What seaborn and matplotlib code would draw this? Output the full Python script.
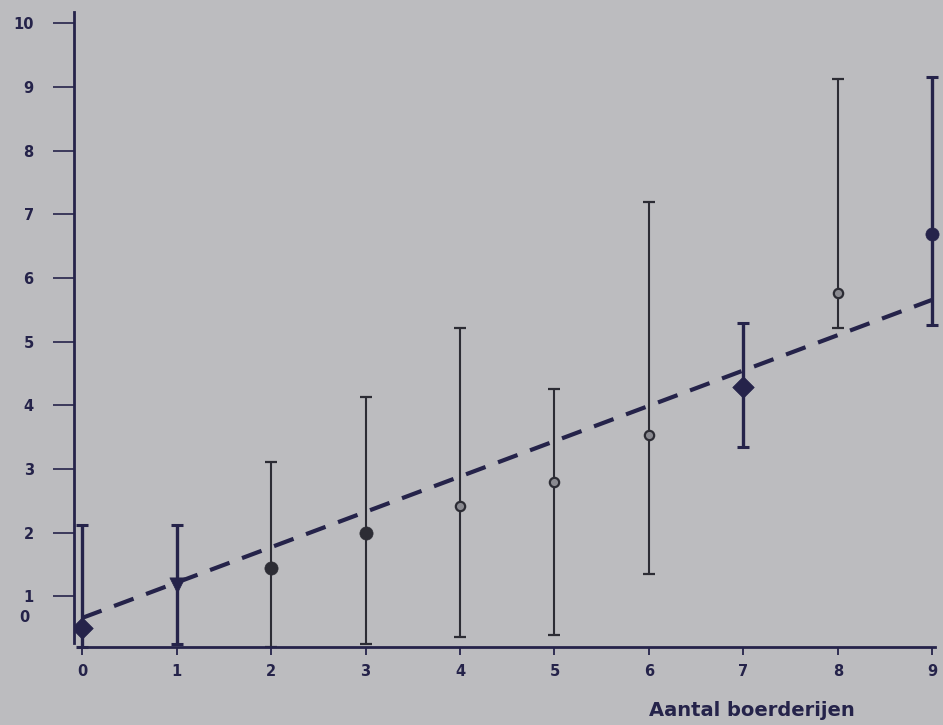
import numpy as np
import pandas as pd
import matplotlib
matplotlib.use("Agg")
import matplotlib.pyplot as plt
import matplotlib.transforms as mtransforms
import seaborn as sns

# waarden
aantal = [0, 1, 2, 3, 4, 5, 6, 7, 8, 9]
gemiddeld = [0.50, 1.18, 1.44, 1.99, 2.42, 2.80, 3.53, 4.29, 5.76, 6.69]
onder = [0.20, 0.25, 0.20, 0.25, 0.36, 0.39, 1.35, 3.35, 5.21, 5.26]
boven = [2.12, 2.12, 3.11, 4.13, 5.21, 4.26, 7.19, 5.29, 9.13, 9.16]
symbool = ['D', 'v', 'o', 'o', 'o', 'o', 'o', 'D', 'o', 'o']
dik = [True, True, False, False, False, False, False, True, False, True]
open_punt = [False, False, False, False, True, True, True, False, True, False]

lijn_x = [0, 9]
lijn_y = [0.66, 5.66]

yticks = [1, 2, 3, 4, 5, 6, 7, 8, 9, 10]
xticks = [0, 1, 2, 3, 4, 5, 6, 7, 8, 9]

bg = '#bcbcbf'
navy = '#25234a'
grijs = '#2c2c34'

sns.set_style('white', {'axes.facecolor': bg, 'figure.facecolor': bg})
plt.rcParams['font.family'] = ['DejaVu Sans']

df = pd.DataFrame({'x': aantal, 'y': gemiddeld, 'lo': onder, 'hi': boven,
                   'm': symbool, 'dik': dik, 'open': open_punt})

fig = plt.figure(figsize=(9.43, 7.25), dpi=100)
ax = fig.add_axes([74 / 943, 65 / 725, 866 / 943, 648 / 725])

# foutbalken
for _, r in df.iterrows():
    kleur = navy if r['dik'] else grijs
    ax.errorbar(r['x'], r['y'], yerr=[[r['y'] - r['lo']], [r['hi'] - r['y']]],
                fmt='none', ecolor=kleur, elinewidth=2.4 if r['dik'] else 1.5,
                capsize=4.5, capthick=2.2 if r['dik'] else 1.6, zorder=2)

# regressielijn
sns.lineplot(x=lijn_x, y=lijn_y, ax=ax, color=navy, linewidth=3.0,
             linestyle=(0, (5, 3.2)), zorder=3)

# punten
for _, r in df.iterrows():
    kleur = navy if r['dik'] else grijs
    if r['open']:
        sns.scatterplot(x=[r['x']], y=[r['y']], ax=ax, marker='o', s=45,
                        facecolor='#8a8a90', edgecolor=grijs, linewidth=1.6, zorder=4)
    else:
        grootte = 120 if r['m'] in ('D', 'v') else 90
        sns.scatterplot(x=[r['x']], y=[r['y']], ax=ax, marker=r['m'], s=grootte,
                        color=kleur, edgecolor=kleur, linewidth=0.5, zorder=4)

ax.set_xlim(-0.085, 9.08)
ax.set_ylim(0, 10.18)

for s in ['top', 'right']:
    ax.spines[s].set_visible(False)
ax.spines['bottom'].set_position(('data', 0.2))
ax.spines['bottom'].set_bounds(0, 9.03)
ax.spines['left'].set_bounds(0.27, 10.18)
for s in ['bottom', 'left']:
    ax.spines[s].set_color(navy)
    ax.spines[s].set_linewidth(2.0)

ax.set_xticks(xticks)
ax.set_xticklabels([str(v) for v in xticks], fontsize=10.5, fontweight='bold', color=navy)
ax.set_yticks(yticks)
ax.set_yticklabels([str(v) for v in yticks], fontsize=10.5, fontweight='bold', color=navy)
ax.tick_params(axis='x', bottom=True, direction='out', length=6, width=1.3, color=navy, pad=6)
ax.tick_params(axis='y', left=True, direction='out', length=15, width=1.2, color=navy, pad=14)

# losse "0" naast de y-as, zonder streepje
trans = mtransforms.blended_transform_factory(fig.transFigure, ax.transData)
ax.text(30 / 943, 0.66, '0', transform=trans, ha='right', va='center',
        fontsize=10.5, fontweight='bold', color=navy)

ax.set_xlabel('')
ax.set_ylabel('')
fig.text(752 / 943, 1 - 710 / 725, 'Aantal boerderijen', ha='center', va='center',
         fontsize=14, fontweight='bold', color=navy)

fig.savefig('out.png', dpi=100, facecolor=bg)
